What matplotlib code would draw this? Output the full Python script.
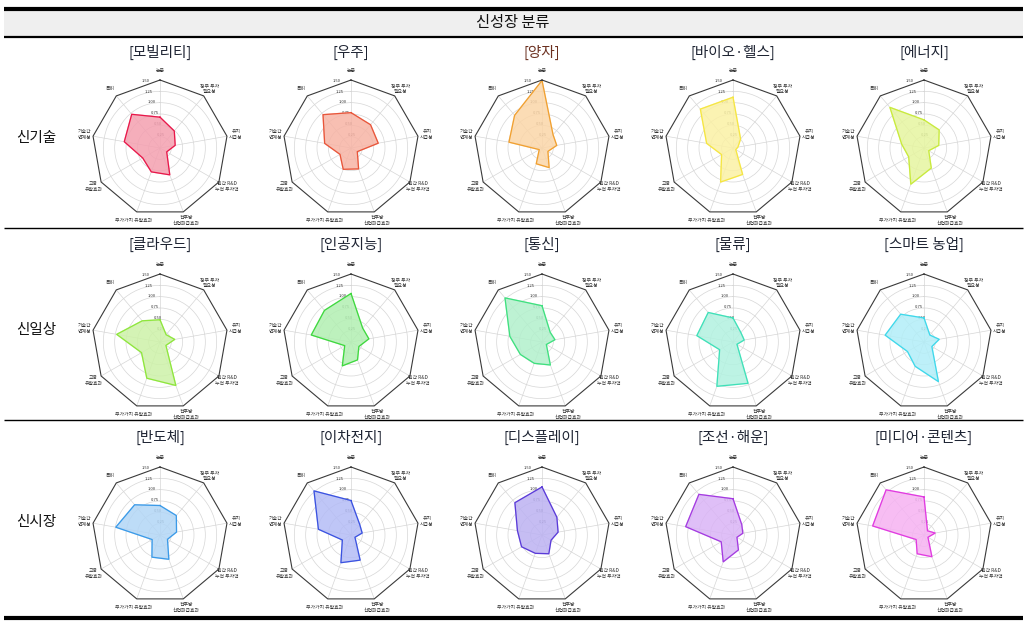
import numpy as np
import matplotlib
matplotlib.use("Agg")
import matplotlib.pyplot as plt
from matplotlib.patches import Rectangle

plt.rcParams["font.family"] = ["Noto Sans CJK KR", "DejaVu Sans"]

axis_labels = ["논문", "정부 투자\n필요성", "유치\n시급성", "민간 R&D\n누적 투자액",
               "전후방\n산업파급효과", "부가가치 유발효과", "고용\n유발효과", "기술간\n연계성", "특허"]
r_ticks = [0.25, 0.50, 0.75, 1.00, 1.25, 1.50]

row_names = ["신기술", "신일상", "신시장"]
titles = ["모빌리티", "우주", "양자", "바이오·헬스", "에너지",
          "클라우드", "인공지능", "통신", "물류", "스마트 농업",
          "반도체", "이차전지", "디스플레이", "조선·해운", "미디어·콘텐츠"]

mobility = [0.68, 0.49, 0.34, 0.17, 0.63, 0.56, 0.44, 0.80, 0.97]
space = [0.78, 0.67, 0.61, 0.16, 0.49, 0.50, 0.28, 0.59, 0.96]
quantum = [1.49, 0.38, 0.33, 0.15, 0.46, 0.37, 0.07, 0.74, 0.94]
bio = [1.12, 0.26, 0.11, 0.07, 0.62, 0.80, 0.29, 0.59, 1.12]
energy = [0.62, 0.52, 0.33, 0.12, 0.47, 0.85, 0.39, 0.50, 1.17]
cloud = [0.49, 0.21, 0.33, 0.15, 1.02, 0.85, 0.47, 0.97, 0.61]
ai = [1.07, 0.40, 0.40, 0.20, 0.42, 0.56, 0.16, 0.89, 0.91]
telecom = [0.80, 0.28, 0.29, 0.11, 0.54, 0.50, 0.55, 0.72, 1.27]
logistics = [0.53, 0.27, 0.25, 0.10, 0.97, 1.04, 0.34, 0.81, 0.85]
smartfarm = [0.53, 0.20, 0.34, 0.20, 0.93, 0.57, 0.42, 0.87, 0.80]
semicon = [0.65, 0.56, 0.37, 0.19, 0.57, 0.52, 0.20, 0.99, 0.87]
battery = [0.76, 0.30, 0.25, 0.10, 0.59, 0.65, 0.22, 0.73, 1.27]
display = [1.06, 0.51, 0.36, 0.23, 0.44, 0.43, 0.52, 0.55, 0.93]
shipping = [0.80, 0.30, 0.22, 0.10, 0.35, 0.63, 0.30, 1.06, 1.17]
media = [0.84, 0.12, 0.25, 0.10, 0.51, 0.44, 0.20, 1.15, 1.30]

series = [mobility, space, quantum, bio, energy,
          cloud, ai, telecom, logistics, smartfarm,
          semicon, battery, display, shipping, media]

edge_colors = ["#e8174a", "#e8553a", "#f0a030", "#f5e642", "#c8ea3c",
               "#8ee63c", "#3ed83e", "#3ee07e", "#3ee0b8", "#3ed8ea",
               "#3a9ae8", "#3a52e0", "#5a3ad8", "#a43ae0", "#e03ae0"]
fill_colors = ["#f4a0b0", "#f7b4a5", "#fbd6a8", "#fbf1a5", "#e6f5a0",
               "#cdf2a8", "#b2efb2", "#b2f0cc", "#b2f2e0", "#b2eef8",
               "#b2d6f6", "#b4bcf6", "#bcb2f2", "#dab4f6", "#f6b2f2"]

W, H = 1027, 628
fig = plt.figure(figsize=(W / 100, H / 100), dpi=100)

# table frame drawn in pixel coordinates
bg = fig.add_axes([0, 0, 1, 1])
bg.set_xlim(0, W)
bg.set_ylim(H, 0)
bg.axis("off")
bg.add_patch(Rectangle((4, 10), W - 8, 26, facecolor="#efefef", edgecolor="none"))
bg.plot([4, W - 4], [9, 9], color="black", lw=3, solid_capstyle="butt")
bg.plot([4, W - 4], [36.5, 36.5], color="black", lw=1.6, solid_capstyle="butt")
bg.plot([4, W - 4], [228, 228], color="black", lw=1.0, solid_capstyle="butt")
bg.plot([4, W - 4], [420, 420], color="black", lw=1.0, solid_capstyle="butt")
bg.plot([4, W - 4], [618, 618], color="black", lw=3, solid_capstyle="butt")
bg.text(513, 22, "신성장 분류", ha="center", va="center", fontsize=11, color="#111111")

row_y = [138, 330, 522]
for name, y in zip(row_names, row_y):
    bg.text(36, y, name, ha="center", va="center", fontsize=10.5, color="#111111")

col_x = [160, 351, 542, 733, 924]
center_y = [148, 342, 535]
title_y = [52, 244, 437]
R = 68

n = len(axis_labels)
angles = np.linspace(0, 2 * np.pi, n, endpoint=False)
ang_closed = np.concatenate([angles, angles[:1]])

for i, (title, vals) in enumerate(zip(titles, series)):
    row, col = divmod(i, 5)
    cx, cy = col_x[col], center_y[row]
    bg.text(cx, title_y[row], f"[{title}]", ha="center", va="center",
            fontsize=10.5, color="#6b3020" if title == "양자" else "#1e2433")

    ax = fig.add_axes([(cx - R) / W, (H - cy - R) / H, 2 * R / W, 2 * R / H],
                      projection="polar")
    ax.set_theta_zero_location("N")
    ax.set_theta_direction(-1)
    ax.set_ylim(0, 1.5)
    ax.spines["polar"].set_visible(False)
    ax.set_facecolor("white")

    v = np.array(vals + vals[:1])
    ax.fill(ang_closed, v, color=fill_colors[i], alpha=0.85, zorder=2)
    ax.plot(ang_closed, v, color=edge_colors[i], lw=0.9, zorder=3)
    ax.plot(ang_closed, [1.5] * len(ang_closed), color="#3a3a3a", lw=0.8,
            clip_on=False, zorder=4)

    ax.set_xticks(angles)
    ax.set_xticklabels(axis_labels, fontsize=3.5, color="#333333")
    ax.tick_params(axis="x", pad=-4)
    ax.set_yticks(r_ticks)
    ax.set_yticklabels([f"{t:.2f}" for t in r_ticks], fontsize=3.0, color="#333333")
    ax.set_rlabel_position(-16)
    ax.grid(True, color="#d6d6d6", lw=0.5)
    ax.yaxis.get_gridlines()[-1].set_visible(False)

fig.savefig("out.png", dpi=100)
